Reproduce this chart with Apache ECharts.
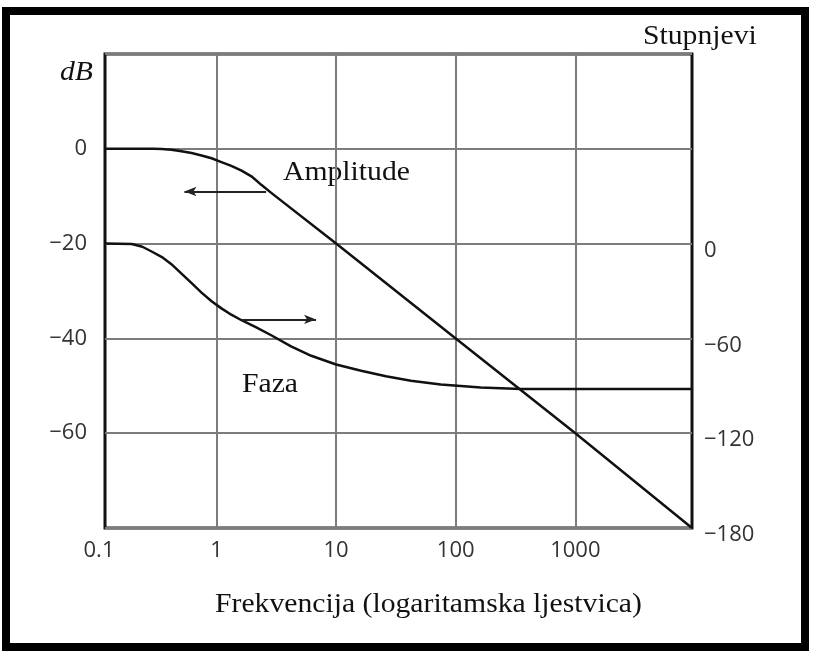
<!DOCTYPE html>
<html>
<head>
<meta charset="utf-8">
<script src="https://cdn.jsdelivr.net/npm/echarts@6/dist/echarts.min.js"></script>
<style>
  html, body { margin: 0; padding: 0; background: #fff; }
  #chart { width: 813px; height: 654px; }
</style>
</head>
<body>
<div id="chart"></div>
<script>
// Frequency span of the plot (log scale)
const freqMin = 0.117;
const freqMax = 9440;
const freqTicks = [1, 10, 100, 1000];

// Amplitude response (dB) against frequency
const ampFreq = [0.117, 0.3, 0.348, 0.42, 0.51, 0.62, 0.75, 0.91, 1.1, 1.33, 1.62, 1.96, 2.37, 2.87, 10, 100, 1000, 9440];
const ampDb   = [0, 0, -0.05, -0.2, -0.5, -0.9, -1.4, -2.0, -2.8, -3.6, -4.6, -5.8, -7.6, -9.3, -20, -40, -60, -80];

// Phase response (degrees) against frequency
const phaseFreq = [0.117, 0.196, 0.24, 0.287, 0.35, 0.42, 0.51, 0.62, 0.75, 0.91, 1.1, 1.33, 1.62, 2.15, 2.87, 4.2, 6.2, 10, 16.2, 26.1, 42.2, 75, 162, 350, 9440];
const phaseDeg  = [0, -0.3, -2, -5, -8.5, -13, -19, -25, -31, -36.5, -41, -45, -48.5, -53, -58, -65, -71, -76.5, -80.5, -84, -86.8, -89.2, -91, -92, -92];

// Arrows pointing each curve to its axis
const ampArrow = { from: 2.6, to: 0.54, db: -9.0 };
const phaseArrow = { from: 1.62, to: 6.8, deg: -48 };

const labelFont = '"Open Sans", sans-serif';
const serifFont = '"Liberation Serif", "Times New Roman", serif';
const lg = Math.log10;
const minus = v => (v < 0 ? '\u2212' + Math.abs(v) : String(v));

const chart = echarts.init(document.getElementById('chart'));

function caption(text, left, top, italic) {
  return {
    type: 'text', left: left, top: top, scaleX: 1.06,
    style: { text: text, font: (italic ? 'italic ' : '') + '28px ' + serifFont, fill: '#111' }
  };
}

chart.setOption({
  animation: false,
  backgroundColor: '#fff',
  grid: {
    left: 105, right: 121, top: 54, bottom: 126,
    show: true, borderColor: '#111', borderWidth: 3
  },
  xAxis: {
    type: 'value',
    min: lg(freqMin),
    max: lg(freqMax),
    axisLine: { show: false },
    axisTick: { show: false, customValues: freqTicks.map(lg) },
    splitLine: { show: true, lineStyle: { color: '#7c7c7c', width: 2 } },
    axisLabel: {
      customValues: [lg(freqMin)].concat(freqTicks.map(lg)),
      margin: 12,
      fontFamily: labelFont,
      fontSize: 22,
      color: '#333',
      formatter: v => (v < -0.5 ? '{lo|0.1}' : String(Math.round(Math.pow(10, v)))),
      rich: { lo: { padding: [0, 12, 0, 0] } }
    }
  },
  yAxis: [
    {
      type: 'value',
      min: -80, max: 20, interval: 20,
      axisLine: { show: false },
      axisTick: { show: false },
      splitLine: { show: true, lineStyle: { color: '#7c7c7c', width: 2 } },
      axisLabel: {
        margin: 18,
        fontFamily: labelFont, fontSize: 22, color: '#333',
        formatter: v => (v === 20 || v === -80 ? '' : minus(v))
      }
    },
    {
      type: 'value',
      min: -180, max: 120, interval: 60,
      position: 'right',
      axisLine: { show: false },
      axisTick: { show: false },
      splitLine: { show: false },
      axisLabel: {
        margin: 12,
        fontFamily: labelFont, fontSize: 22, color: '#333',
        formatter: v => (v === 60 || v === 120 ? '' : '{d|' + minus(v) + '}'),
        rich: { d: { padding: [14, 0, 0, 0] } }
      }
    }
  ],
  series: [
    {
      name: 'Amplitude',
      type: 'line',
      yAxisIndex: 0,
      symbol: 'none',
      smooth: false,
      silent: true,
      lineStyle: { color: '#111', width: 2.5, join: 'round' },
      data: ampFreq.map((f, i) => [lg(f), ampDb[i]]),
      markLine: {
        silent: true,
        symbol: ['none', 'arrow'],
        symbolSize: [7, 12],
        label: { show: false },
        lineStyle: { color: '#222', width: 2, type: 'solid' },
        data: [[
          { coord: [lg(ampArrow.from), ampArrow.db] },
          { coord: [lg(ampArrow.to), ampArrow.db] }
        ]]
      }
    },
    {
      name: 'Faza',
      type: 'line',
      yAxisIndex: 1,
      symbol: 'none',
      smooth: false,
      silent: true,
      lineStyle: { color: '#111', width: 2.5, join: 'round' },
      data: phaseFreq.map((f, i) => [lg(f), phaseDeg[i]]),
      markLine: {
        silent: true,
        symbol: ['none', 'arrow'],
        symbolSize: [7, 12],
        label: { show: false },
        lineStyle: { color: '#222', width: 2, type: 'solid' },
        data: [[
          { coord: [lg(phaseArrow.from), phaseArrow.deg] },
          { coord: [lg(phaseArrow.to), phaseArrow.deg] }
        ]]
      }
    }
  ],
  graphic: [
    {
      type: 'rect',
      shape: { x: 6, y: 11, width: 799, height: 636 },
      style: { fill: 'none', stroke: '#000', lineWidth: 8 },
      silent: true
    },
    caption('Amplitude', 283, 159),
    caption('Faza', 242, 371),
    caption('Stupnjevi', 643, 23),
    caption('dB', 60, 59, true),
    caption('Frekvencija (logaritamska ljestvica)', 215, 591)
  ]
});
</script>
</body>
</html>
